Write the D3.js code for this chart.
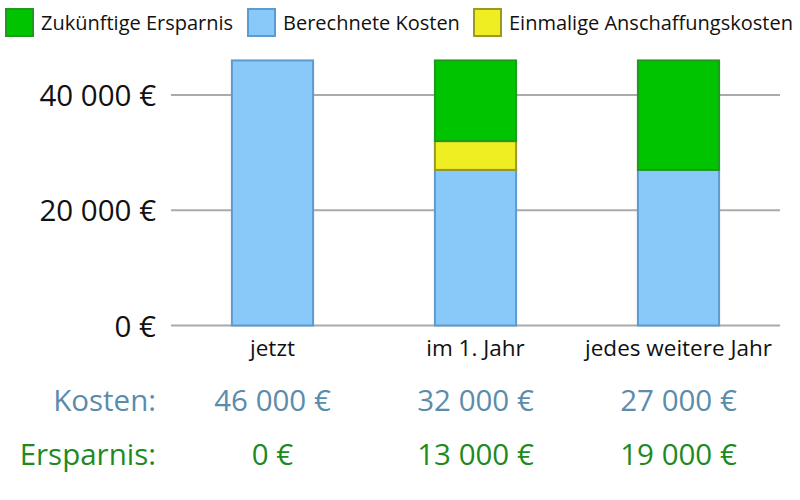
<!DOCTYPE html>
<html lang="de">
<meta charset="utf-8">
<style>
  body { margin: 0; background: #fff; }
  text { font-family: "Open Sans", sans-serif; }
</style>
<script src="https://d3js.org/d3.v7.min.js"></script>
<body>
<div id="chart"></div>
<script>
// data
const categories = ["jetzt", "im 1. Jahr", "jedes weitere Jahr"]
const kostenBase = [46000, 27000, 27000]     // Berechnete Kosten
const anschaffung = [0, 5000, 0]             // Einmalige Anschaffungskosten
const ersparnisBar = [0, 14000, 19000]       // Zukünftige Ersparnis
const yTicks = [0, 20000, 40000]
const kostenLabels = ["46 000 €", "32 000 €", "27 000 €"]
const ersparnisLabels = ["0 €", "13 000 €", "19 000 €"]

const legendItems = [
  { key: "ersparnis", label: "Zukünftige Ersparnis" },
  { key: "kosten", label: "Berechnete Kosten" },
  { key: "anschaffung", label: "Einmalige Anschaffungskosten" }
]
const fills = { kosten: "#88c9fa", anschaffung: "#eeee22", ersparnis: "#00c400" }
const strokes = { kosten: "#5b9bd0", anschaffung: "#9a9a22", ersparnis: "#1f9a1f" }

const W = 800, H = 500

const svg = d3.select("#chart").append("svg")
  .attr("width", W).attr("height", H)

const x = d3.scaleBand()
  .domain(categories)
  .range([171, 780])
  .paddingInner(0.6)
  .paddingOuter(0.3)

const y = d3.scaleLinear()
  .domain([0, 40000])
  .range([325.5, 95])

// grid lines
svg.append("g")
  .selectAll("line")
  .data(yTicks)
  .join("line")
  .attr("x1", 171).attr("x2", 780)
  .attr("y1", d => y(d)).attr("y2", d => y(d))
  .attr("stroke", "#aaaaaa")
  .attr("stroke-width", 2)

// y axis labels
const fmt = d => d3.format(",")(d).replace(/,/g, " ") + " €"
const yAxis = svg.append("g")
  .attr("transform", "translate(156,0)")
  .call(d3.axisLeft(y).tickValues(yTicks).tickSize(0).tickPadding(0).tickFormat(fmt))
yAxis.select(".domain").remove()
yAxis.selectAll("text")
  .attr("font-family", "Open Sans")
  .attr("font-size", 29.5)
  .attr("fill", "#111")
  .attr("dy", "0.36em")

// stacks
const rows = categories.map((c, i) => ({
  cat: c, kosten: kostenBase[i], anschaffung: anschaffung[i], ersparnis: ersparnisBar[i]
}))
const stack = d3.stack().keys(["kosten", "anschaffung", "ersparnis"])
const series = stack(rows)

svg.append("g")
  .selectAll("g")
  .data(series)
  .join("g")
  .attr("fill", d => fills[d.key])
  .attr("stroke", d => strokes[d.key])
  .attr("stroke-width", 2)
  .selectAll("rect")
  .data(d => d.filter(s => s[1] > s[0]))
  .join("rect")
  .attr("x", d => x(d.data.cat))
  .attr("width", x.bandwidth())
  .attr("y", d => y(d[1]))
  .attr("height", d => y(d[0]) - y(d[1]))

// category labels
svg.append("g")
  .selectAll("text")
  .data(categories)
  .join("text")
  .attr("x", d => x(d) + x.bandwidth() / 2)
  .attr("y", 356)
  .attr("text-anchor", "middle")
  .attr("font-size", 22.5)
  .attr("fill", "#111")
  .text(d => d)

// bottom rows
const rowDefs = [
  { title: "Kosten:", labels: kostenLabels, color: "#5b8cab", y: 411 },
  { title: "Ersparnis:", labels: ersparnisLabels, color: "#1e8a1e", y: 465 }
]
rowDefs.forEach(r => {
  svg.append("text")
    .attr("x", 156).attr("y", r.y)
    .attr("text-anchor", "end")
    .attr("font-size", 29.5)
    .attr("fill", r.color)
    .text(r.title)
  svg.append("g")
    .selectAll("text")
    .data(r.labels)
    .join("text")
    .attr("x", (d, i) => x(categories[i]) + x.bandwidth() / 2)
    .attr("y", r.y)
    .attr("text-anchor", "middle")
    .attr("font-size", 29.5)
    .attr("fill", r.color)
    .text(d => d)
})

// legend
const legendX = [5, 247, 473]
const legend = svg.append("g")
  .selectAll("g")
  .data(legendItems)
  .join("g")
  .attr("transform", (d, i) => `translate(${legendX[i]},8)`)
legend.append("rect")
  .attr("x", 1).attr("y", 1)
  .attr("width", 27).attr("height", 27)
  .attr("fill", d => fills[d.key])
  .attr("stroke", d => strokes[d.key])
  .attr("stroke-width", 2)
legend.append("text")
  .attr("x", 36).attr("y", 22)
  .attr("font-size", 20)
  .attr("fill", "#111")
  .text(d => d.label)
</script>
</body>
</html>
